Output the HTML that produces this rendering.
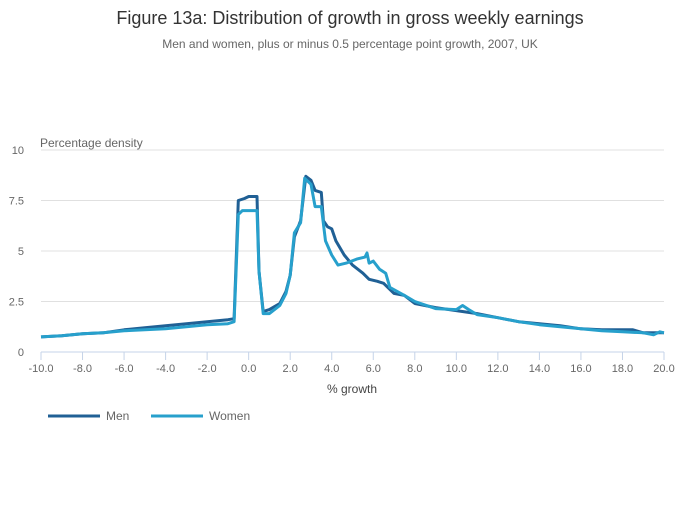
<!DOCTYPE html>
<html><head><meta charset="utf-8"><style>
body{margin:0;background:#fff;font-family:"Liberation Sans",sans-serif}
svg text{font-family:"Liberation Sans",sans-serif}
</style></head><body>
<svg width="700" height="502" viewBox="0 0 700 502">
<text x="350" y="24" text-anchor="middle" font-size="18" fill="#333">Figure 13a: Distribution of growth in gross weekly earnings</text>
<text x="350" y="48" text-anchor="middle" font-size="12" fill="#666">Men and women, plus or minus 0.5 percentage point growth, 2007, UK</text>
<text x="40" y="147" font-size="12" fill="#666">Percentage density</text>
<g id="grid"></g>
<g id="yt"></g>
<g id="xt"></g>
<text x="352" y="393" text-anchor="middle" font-size="12" fill="#444">% growth</text>
<g id="series"></g>
<g>
<g><line x1="48" x2="100" y1="416" y2="416" stroke="#206095" stroke-width="3"/><text x="106" y="420" font-size="12" fill="#666">Men</text></g>
<g><line x1="151" x2="203" y1="416" y2="416" stroke="#27a0cc" stroke-width="3"/><text x="209" y="420" font-size="12" fill="#666">Women</text></g>
</g>
</svg>
<script>
const yTicks=[0,2.5,5,7.5,10];
const yTickLabels=["0","2.5","5","7.5","10"];
const xTicks=[-10,-8,-6,-4,-2,0,2,4,6,8,10,12,14,16,18,20];
const menX=[-10,-9,-8,-7,-6,-5,-4,-3,-2,-1,-0.7,-0.5,-0.2,0,0.4,0.5,0.7,1.0,1.5,1.8,2.0,2.2,2.5,2.75,3.0,3.2,3.5,3.6,3.8,4.0,4.2,4.6,5.0,5.5,5.8,6.2,6.5,7.0,7.5,8.0,9,10,11,12,13,14,15,16,17,18,18.5,19,19.5,20];
const menY=[0.75,0.8,0.9,0.95,1.1,1.2,1.3,1.4,1.5,1.6,1.65,7.5,7.6,7.7,7.7,4,2.0,2.1,2.4,3.0,3.8,5.7,6.5,8.7,8.5,8.0,7.9,6.5,6.2,6.1,5.5,4.8,4.3,3.9,3.6,3.5,3.4,2.9,2.8,2.4,2.2,2.05,1.9,1.7,1.5,1.4,1.3,1.15,1.1,1.1,1.1,0.95,0.95,0.95];
const womenX=[-10,-9,-8,-7,-6,-5,-4,-3,-2,-1,-0.7,-0.5,-0.3,0.4,0.5,0.7,1.0,1.5,1.8,2.0,2.2,2.5,2.7,3.0,3.2,3.5,3.7,4.0,4.3,4.7,5.2,5.6,5.7,5.8,6.0,6.3,6.6,6.8,7.5,8,9,10,10.3,10.6,11,12,13,14,15,16,17,18,19,19.5,19.8,20];
const womenY=[0.75,0.8,0.9,0.95,1.05,1.1,1.15,1.25,1.35,1.4,1.5,6.8,7.0,7.0,4,1.9,1.9,2.3,2.9,3.8,5.9,6.4,8.6,8.3,7.2,7.2,5.5,4.8,4.3,4.4,4.6,4.7,4.9,4.4,4.5,4.1,3.9,3.2,2.8,2.5,2.15,2.1,2.3,2.1,1.85,1.7,1.5,1.35,1.25,1.15,1.05,1.0,0.95,0.85,1.0,0.95];
const sx=v=>41+(v+10)*(623/30);
const sy=v=>352-v*20.2;
const NS="http://www.w3.org/2000/svg";
function mk(t,a,p){const e=document.createElementNS(NS,t);for(const k in a)e.setAttribute(k,a[k]);p.appendChild(e);return e;}
const grid=document.getElementById('grid'),yt=document.getElementById('yt'),xt=document.getElementById('xt'),ser=document.getElementById('series');
yTicks.forEach((v,i)=>{
 if(v>0){const l=mk('line',{x1:41,x2:664,y1:sy(v),y2:sy(v),stroke:'#e0e0e0','stroke-width':1},grid);
 
 }
 const t=mk('text',{x:24,y:sy(v)+4,'text-anchor':'end','font-size':11,fill:'#666'},yt);t.textContent=yTickLabels[i];
 
 
});
const ax=mk('line',{x1:41,x2:664,y1:352,y2:352,stroke:'#c5d3e8','stroke-width':1},xt);


xTicks.forEach(v=>{
 const l=mk('line',{x1:sx(v),x2:sx(v),y1:352,y2:360,stroke:'#c5d3e8'},xt);
 
 
 const t=mk('text',{x:sx(v),y:372,'text-anchor':'middle','font-size':11,fill:'#666'},xt);t.textContent=v.toFixed(1);
 
 
});
function line(xs,ys,c,name){
 const d=xs.map((x,i)=>(i?'L':'M')+sx(x).toFixed(1)+','+sy(ys[i]).toFixed(1)).join('');
 const p=mk('path',{d:d,fill:'none',stroke:c,'stroke-width':3,'stroke-linejoin':'round'},ser);
 
 
}
line(menX,menY,'#206095','men-line');
line(womenX,womenY,'#27a0cc','women-line');
</script>
</body></html>
